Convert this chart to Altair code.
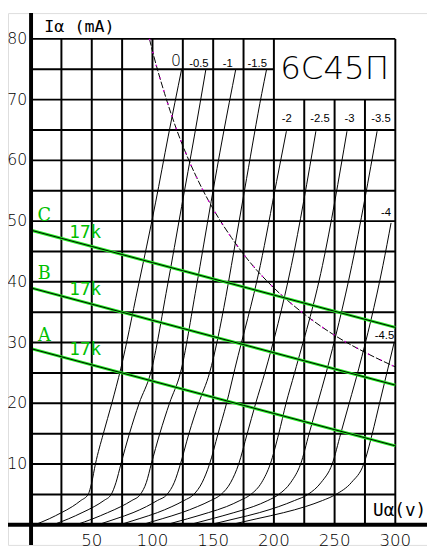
import altair as alt
import pandas as pd

# ---------------- data ----------------
TITLE = "6С45П"
X_TITLE = "Uα(v)"
Y_TITLE = "Iα (mA)"

X_TICKS = [50, 100, 150, 200, 250, 300]
Y_TICKS = [10, 20, 30, 40, 50, 60, 70, 80]
GRID_V = [25, 50, 75, 100, 125, 150, 175, 200, 225, 250, 275, 300]
GRID_I = [5, 10, 15, 20, 25, 30, 35, 40, 45, 50, 55, 60, 65, 70, 75, 80]

UG_LABELS = ["0", "-0.5", "-1", "-1.5", "-2", "-2.5", "-3", "-3.5", "-4", "-4.5"]

V_G0 = [3, 15, 25, 34, 41, 47, 50, 53, 59.5, 66.5, 74, 88, 102.5, 113, 124]
I_G0 = [0, 1, 2, 3, 4, 5, 7, 10, 15, 20, 25.8, 39, 53, 64, 75]
V_G05 = [18, 31, 42, 52, 60, 66, 70, 74, 81, 89, 98.5, 112, 124, 134.5, 144]
I_G05 = [0, 1, 2, 3, 4, 5, 7, 10, 15, 20, 25, 39, 52.4, 64, 75]
V_G1 = [37, 51, 63, 74, 83, 90, 95, 99, 106, 114, 123, 136, 148.3, 158, 168.6]
I_G1 = [0, 1, 2, 3, 4, 5, 7, 10, 15, 20, 25, 39, 53.2, 64, 75]
V_G15 = [55, 70, 84, 95, 104, 112, 118, 123, 130, 138, 147, 160.5, 165, 177.5, 190, 194]
I_G15 = [0, 1, 2, 3, 4, 5, 7, 10, 15, 20, 25, 37.6, 42.7, 57, 71, 75]
V_G2 = [73, 89, 104, 116, 126, 134, 141, 147, 154, 161, 168, 188.8, 202.2, 210.3]
I_G2 = [0, 1, 2, 3, 4, 5, 7, 10, 15, 20, 25.8, 42.7, 56.5, 64.8]
V_G25 = [91, 108, 124, 137, 148, 156.5, 164.5, 171, 178, 185, 192.5, 214.4, 234.6]
I_G25 = [0, 1, 2, 3, 4, 5, 7, 10, 15, 20, 25, 42.7, 64.8]
V_G3 = [111, 129, 146, 161, 172, 181, 190, 197, 204, 210, 217, 240, 260.2]
I_G3 = [0, 1, 2, 3, 4, 5, 7, 10, 15, 20, 25, 42.7, 64.8]
V_G35 = [130, 149, 167, 183, 195, 204, 214, 222, 229, 236, 243, 264.2, 285]
I_G35 = [0, 1, 2, 3, 4, 5, 7, 10, 15, 20, 25, 42.7, 64.8]
V_G4 = [147, 168, 188, 204, 217, 228, 239, 248, 255, 262, 270, 289.8, 296.5]
I_G4 = [0, 1, 2, 3, 4, 5, 7, 10, 15, 20, 25.8, 42.7, 49.7]
V_G45 = [164, 186, 208, 226, 240, 251, 264, 274, 281, 287, 294, 299]
I_G45 = [0, 1, 2, 3, 4, 5, 7, 10, 15, 20, 25.8, 30]

UG_LABEL_V = [119.3, 138.2, 162, 186.3, 210.6, 238, 262.3, 288.2, 292.4, 291.1]
UG_LABEL_I = [76.3, 75.9, 75.9, 75.9, 66.8, 66.8, 66.8, 66.8, 51.3, 31.1]

HYP_V = [97.5, 100, 110, 120, 130, 140, 150, 165, 180, 200, 225, 250, 275, 300]
HYP_I = [80, 78, 71, 65, 60, 55.7, 52, 47.3, 43.3, 39, 34.7, 31.2, 28.4, 26]

LOAD_NAMES = ["A", "B", "C"]
LOAD_V = [0, 300]
LOAD_A = [29, 13]
LOAD_B = [39, 23]
LOAD_C = [48.5, 32.5]
LOAD_LABEL_V = 10.9
LOAD_LABEL_I = [31.1, 41.2, 50.9]
R_LABEL = "17k"
R_LABEL_V = 44.6
R_LABEL_I = [28.7, 38.7, 48.0]

# ---------------- build ----------------
XS = alt.Scale(domain=[-18.99, 326.1], nice=False, zero=False)
YS = alt.Scale(domain=[-3.31, 84.25], nice=False, zero=False)


def X(f="V"):
    return alt.X(f + ":Q", scale=XS, axis=None)


def Y(f="I"):
    return alt.Y(f + ":Q", scale=YS, axis=None)


curve_pairs = [(V_G0, I_G0), (V_G05, I_G05), (V_G1, I_G1), (V_G15, I_G15),
               (V_G2, I_G2), (V_G25, I_G25), (V_G3, I_G3), (V_G35, I_G35),
               (V_G4, I_G4), (V_G45, I_G45)]
rows = []
for lab, (vs, cs) in zip(UG_LABELS, curve_pairs):
    for v, c in zip(vs, cs):
        rows.append({"ug": lab, "V": v, "I": c})
curves_df = pd.DataFrame(rows)

grid_rows = []
for v in GRID_V:
    top = 70 if v in (225, 250, 275) else 80
    grid_rows.append({"x": v, "x2": v, "y": 0, "y2": top})
for c in GRID_I:
    right = 200 if c == 75 else 300
    grid_rows.append({"x": 0, "x2": right, "y": c, "y2": c})
grid_df = pd.DataFrame(grid_rows)

axes_df = pd.DataFrame([
    {"x": 0, "x2": 0, "y": -3.31, "y2": 84.25},
    {"x": -18.99, "x2": 326.1, "y": 0, "y2": 0},
])

load_rows = []
for name, vals in zip(LOAD_NAMES, [LOAD_A, LOAD_B, LOAD_C]):
    for v, c in zip(LOAD_V, vals):
        load_rows.append({"name": name, "V": v, "I": c})
load_df = pd.DataFrame(load_rows)

hyp_df = pd.DataFrame({"V": HYP_V, "I": HYP_I})

grid = alt.Chart(grid_df).mark_rule(color="black", strokeWidth=2).encode(
    x=X("x"), x2="x2", y=Y("y"), y2="y2")
axes = alt.Chart(axes_df).mark_rule(color="black", strokeWidth=4).encode(
    x=X("x"), x2="x2", y=Y("y"), y2="y2")

curves = alt.Chart(curves_df).mark_line(
    color="black", strokeWidth=1, interpolate="monotone").encode(
    x=X(), y=Y(), detail="ug:N", order="I:Q")

hyp = alt.Chart(hyp_df).mark_line(
    color="black", strokeWidth=1, strokeDash=[7, 2], interpolate="monotone").encode(
    x=X(), y=Y(), order="V:Q")
hyp_dots = alt.Chart(hyp_df).mark_line(
    color="#e000e0", strokeWidth=1.5, strokeDash=[1.5, 12], interpolate="monotone").encode(
    x=X(), y=Y(), order="V:Q")

load_green = alt.Chart(load_df).mark_line(color="#22ee22", strokeWidth=3).encode(
    x=X(), y=Y(), detail="name:N")
load_black = alt.Chart(load_df).mark_line(color="black", strokeWidth=1).encode(
    x=X(), y=Y(), detail="name:N")

lab_df = pd.DataFrame({"t": UG_LABELS, "V": UG_LABEL_V, "I": UG_LABEL_I})
ug0 = alt.Chart(lab_df[lab_df.t == "0"]).mark_text(
    font="DejaVu Sans", fontSize=16, fontWeight=200, baseline="middle", align="center",
    color="black").encode(x=X(), y=Y(), text="t:N")
ugs = alt.Chart(lab_df[lab_df.t != "0"]).mark_text(
    font="Liberation Sans", fontSize=11.5, baseline="middle", align="center",
    color="black").encode(x=X(), y=Y(), text="t:N")

ytick_df = pd.DataFrame({"t": [str(v) for v in Y_TICKS], "I": Y_TICKS, "V": [-3.2] * len(Y_TICKS)})
yticks = alt.Chart(ytick_df).mark_text(
    font="DejaVu Sans", fontSize=16, fontWeight=200, align="right", baseline="middle",
    color="black").encode(x=X(), y=Y(), text="t:N")

xtick_df = pd.DataFrame({"t": [str(v) for v in X_TICKS], "V": X_TICKS, "I": [-3.47] * len(X_TICKS)})
xticks = alt.Chart(xtick_df).mark_text(
    font="DejaVu Sans", fontSize=17, fontWeight=200, align="center", baseline="alphabetic",
    color="black").encode(x=X(), y=Y(), text="t:N")

title_df = pd.DataFrame({"t": [TITLE], "V": [250], "I": [75]})
title = alt.Chart(title_df).mark_text(
    font="DejaVu Sans", fontSize=33, fontWeight=200, align="center", baseline="middle",
    color="black").encode(x=X(), y=Y(), text="t:N")

ytitle_df = pd.DataFrame({"t": [Y_TITLE], "V": [10.9], "I": [81.2]})
ytitle = alt.Chart(ytitle_df).mark_text(
    font="DejaVu Sans Mono", fontSize=17, align="left", baseline="alphabetic",
    color="black").encode(x=X(), y=Y(), text="t:N")

xtitle_df = pd.DataFrame({"t": [X_TITLE], "V": [281.7], "I": [1.45]})
xtitle = alt.Chart(xtitle_df).mark_text(
    font="DejaVu Sans Mono", fontSize=18, align="left", baseline="alphabetic",
    color="black").encode(x=X(), y=Y(), text="t:N")

ll_df = pd.DataFrame({"t": LOAD_NAMES, "V": [LOAD_LABEL_V] * 3, "I": LOAD_LABEL_I})
load_labels = alt.Chart(ll_df).mark_text(
    font="DejaVu Serif", fontSize=18, align="center", baseline="middle",
    color="#00c000").encode(x=X(), y=Y(), text="t:N")

rl_df = pd.DataFrame({"t": [R_LABEL] * 3, "V": [R_LABEL_V] * 3, "I": R_LABEL_I})
r_labels = alt.Chart(rl_df).mark_text(
    font="DejaVu Sans Mono", fontSize=18, align="center", baseline="middle",
    color="#00c000").encode(x=X(), y=Y(), text="t:N")

chart = alt.layer(
    grid, curves, hyp, hyp_dots, load_green, load_black, axes,
    ug0, ugs, yticks, xticks, title, ytitle, xtitle, load_labels, r_labels
).properties(
    width=427, height=542,
    autosize=alt.AutoSizeParams(type="none"),
    padding=0,
).configure_view(stroke=None).configure(background="white")

chart.save("out.html", embed_options={"renderer": "svg", "actions": False})
